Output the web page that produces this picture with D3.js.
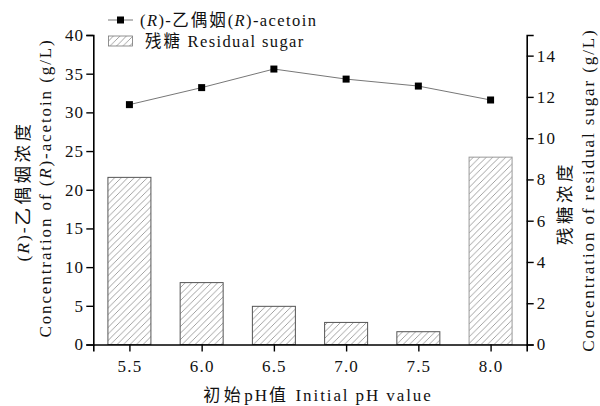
<!DOCTYPE html>
<html><head><meta charset="utf-8">
<script src="https://cdn.jsdelivr.net/npm/d3@7"></script>
<style>
body{margin:0;background:#fff}
text{font-family:"Liberation Serif","Noto Sans CJK SC",serif;fill:#111;white-space:pre}
.cjk{letter-spacing:3.5px}
</style>
</head><body><svg id="c" width="600" height="406"></svg>
<script>
const phValues = [5.5, 6.0, 6.5, 7.0, 7.5, 8.0];
const xTickLabels = ["5.5", "6.0", "6.5", "7.0", "7.5", "8.0"];
const acetoin = [31.0, 33.2, 35.6, 34.3, 33.4, 31.6];
const residualSugar = [8.1, 3.0, 1.85, 1.07, 0.62, 9.08];
const leftTicks = [0, 5, 10, 15, 20, 25, 30, 35, 40];
const rightTicks = [0, 2, 4, 6, 8, 10, 12, 14];

const svg = d3.select("#c");
const L = 93.3, R = 526.7, T = 35, B = 344.5;
const x = d3.scaleLinear().domain([5.25, 8.25]).range([L, R]);
const yL = d3.scaleLinear().domain([0, 40]).range([B, T]);
const yR = d3.scaleLinear().domain([0, 15]).range([B, T]);

const defs = svg.append("defs");
const pat = defs.append("pattern").attr("id", "hatch").attr("patternUnits", "userSpaceOnUse")
  .attr("width", 6.5).attr("height", 6.5);
pat.append("path").attr("d", "M-1.625,1.625 l3.25,-3.25 M0,6.5 l6.5,-6.5 M4.875,8.125 l3.25,-3.25")
  .attr("stroke", "#8a8a8a").attr("stroke-width", 0.8).attr("fill", "none");

// bars
const bw = 43;
svg.append("g").selectAll("rect").data(residualSugar).join("rect")
  .attr("x", (d, i) => x(phValues[i]) - bw / 2)
  .attr("y", d => yR(d))
  .attr("width", bw)
  .attr("height", d => B - yR(d))
  .attr("fill", "url(#hatch)")
  .attr("stroke", (d, i) => i === residualSugar.length - 1 ? "#999" : "#555")
  .attr("stroke-width", 1);

// line
const line = d3.line().x((d, i) => x(phValues[i])).y(d => yL(d));
svg.append("path").datum(acetoin).attr("d", line)
  .attr("fill", "none").attr("stroke", "#777").attr("stroke-width", 1);
svg.append("g").selectAll("rect").data(acetoin).join("rect")
  .attr("x", (d, i) => x(phValues[i]) - 3.5).attr("y", d => yL(d) - 3.5)
  .attr("width", 7).attr("height", 7).attr("fill", "#000");

// axes
function styleAxis(g) {
  g.selectAll("path.domain").attr("stroke", "#000").attr("stroke-width", 1.6);
  g.selectAll(".tick line").attr("stroke", "#000").attr("stroke-width", 1.4);
  g.selectAll(".tick text").style("font-family", "'Liberation Serif',serif").style("font-size", "17px")
    .style("letter-spacing", "1.2px").attr("fill", "#111");
}
const xAxis = svg.append("g").attr("transform", `translate(0,${B})`)
  .call(d3.axisBottom(x).tickValues(phValues).tickFormat((d, i) => xTickLabels[i]).tickSizeOuter(0).tickSize(7).tickPadding(8));
styleAxis(xAxis);
const lAxis = svg.append("g").attr("transform", `translate(${L},0)`)
  .call(d3.axisLeft(yL).tickValues(leftTicks).tickSizeOuter(0).tickSize(7).tickPadding(2));
styleAxis(lAxis);
const rAxis = svg.append("g").attr("transform", `translate(${R},0)`)
  .call(d3.axisRight(yR).tickValues(rightTicks).tickSizeOuter(0).tickSize(7).tickPadding(3));
styleAxis(rAxis);

// axis titles
const LS = "1.9px";
const lt = svg.append("text").attr("transform", `translate(29,191) rotate(-90)`).attr("text-anchor", "middle")
  .style("font-size", "17.5px").style("letter-spacing", LS);
lt.append("tspan").text("(");
lt.append("tspan").style("font-style", "italic").text("R");
lt.append("tspan").text(")-");
lt.append("tspan").attr("class", "cjk").text("乙偶姻浓度");
const lt2 = svg.append("text").attr("transform", `translate(51,188) rotate(-90)`).attr("text-anchor", "middle")
  .style("font-size", "17px").style("letter-spacing", LS);
lt2.append("tspan").text("Concentration of (");
lt2.append("tspan").style("font-style", "italic").text("R");
lt2.append("tspan").text(")-acetoin (g/L)");

svg.append("text").attr("transform", `translate(571,203) rotate(-90)`).attr("text-anchor", "middle")
  .attr("class", "cjk").style("font-size", "17.5px").text("残糖浓度");
svg.append("text").attr("transform", `translate(594,190) rotate(-90)`).attr("text-anchor", "middle")
  .style("font-size", "17px").style("letter-spacing", LS).text("Concentration of residual sugar (g/L)");

const xt = svg.append("text").attr("x", 318).attr("y", 401).attr("text-anchor", "middle")
  .style("font-size", "17px").style("letter-spacing", LS);
xt.append("tspan").attr("class", "cjk").text("初始");
xt.append("tspan").text("pH");
xt.append("tspan").attr("class", "cjk").text("值");
xt.append("tspan").text(" Initial pH value");

// legend
const lg = svg.append("g");
lg.append("line").attr("x1", 108).attr("x2", 133).attr("y1", 20).attr("y2", 20).attr("stroke", "#777");
lg.append("rect").attr("x", 117).attr("y", 16.5).attr("width", 7).attr("height", 7).attr("fill", "#000");
const lt3 = lg.append("text").attr("x", 140).attr("y", 25.5).style("font-size", "16.5px").style("letter-spacing", "1.4px");
lt3.append("tspan").text("(");
lt3.append("tspan").style("font-style", "italic").text("R");
lt3.append("tspan").text(")-");
lt3.append("tspan").attr("class", "cjk").style("letter-spacing", "2px").text("乙偶姻");
lt3.append("tspan").text("(");
lt3.append("tspan").style("font-style", "italic").text("R");
lt3.append("tspan").text(")-acetoin");
lg.append("rect").attr("x", 108.5).attr("y", 36).attr("width", 24).attr("height", 10)
  .attr("fill", "url(#hatch)").attr("stroke", "#777").attr("stroke-width", 0.8);
const lt4 = lg.append("text").attr("x", 145).attr("y", 47).style("font-size", "16.5px").style("letter-spacing", "1.4px");
lt4.append("tspan").attr("class", "cjk").style("letter-spacing", "2px").text("残糖");
lt4.append("tspan").text(" Residual sugar");
</script>
</body></html>
